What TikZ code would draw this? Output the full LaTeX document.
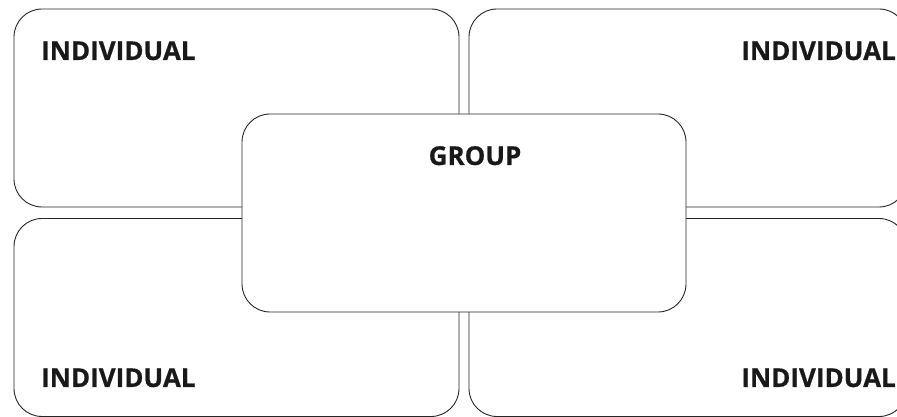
\documentclass[tikz,border=0pt]{standalone}
\usepackage{fontspec}
\setmainfont{Open Sans}[BoldFeatures={FakeBold=0.6}]
\tikzset{
  panel/.style={draw=black!85, line width=0.9pt, rounded corners=28pt, fill=white,
    minimum width=#1, minimum height=198pt, inner sep=0pt},
  heading/.style={font=\bfseries\fontsize{26}{31}\selectfont, text=black!90, inner sep=0pt}
}
\begin{document}
\begin{tikzpicture}[x=1pt, y=1pt]
                \useasboundingbox (0,0) rectangle (897,417);
                \clip (0,0) rectangle (897,417);

                % the four individual panels
                \node[panel=445pt] (tl) at (236.5,309) {};
                \node[panel=438pt] (tr) at (688,309) {};
                \node[panel=445pt] (bl) at (236.5,99.5) {};
                \node[panel=438pt] (br) at (688,99.5) {};

                % group panel on top
                \node[panel=444pt] (group) at (464,204) {};

                \node[heading, anchor=base west] (tl-text) at (41,357) {INDIVIDUAL};
                \node[heading, anchor=base east] (tr-text) at (896,357) {INDIVIDUAL};
                \node[heading, anchor=base west] (bl-text) at (41,30) {INDIVIDUAL};
                \node[heading, anchor=base east] (br-text) at (896,30) {INDIVIDUAL};
                \node[heading, anchor=base] (group-text) at (475,252) {GROUP};
            \end{tikzpicture}
\end{document}
